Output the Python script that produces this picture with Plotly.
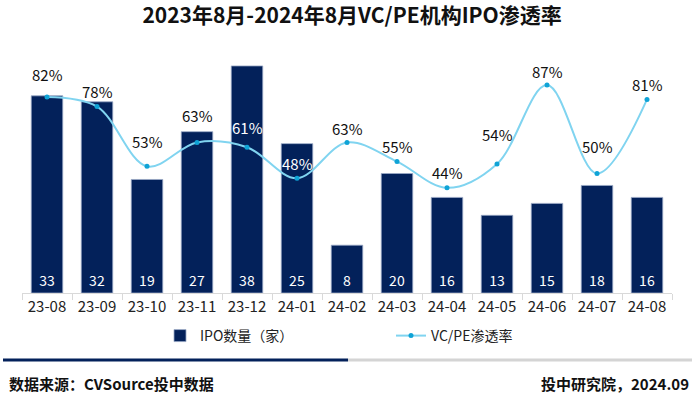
import plotly.graph_objects as go

# ---- data ----
months = ["23-08", "23-09", "23-10", "23-11", "23-12", "24-01", "24-02",
          "24-03", "24-04", "24-05", "24-06", "24-07", "24-08"]
ipo_counts = [33, 32, 19, 27, 38, 25, 8, 20, 16, 13, 15, 18, 16]
vcpe_rate = [0.82, 0.78, 0.53, 0.63, 0.61, 0.48, 0.63, 0.55, 0.44, 0.54, 0.87, 0.50, 0.81]

# ---- styling ----
FONT = "Noto Sans CJK SC"
NAVY = "#03215a"
LINE_C = "#80d4f0"
MARK_C = "#0fa3d6"
label_shift = [23, 15, 25, 27, 20, 15, 14, 15, 15, 29, 14, 27, 15]
label_color = ["#111", "#111", "#111", "#111", "white", "white", "#111",
               "#111", "#111", "#111", "#111", "#111", "#111"]

W, H = 700, 398
L, R, T, B = 22, 28, 54, 105
PW, PH = W - L - R, H - T - B


def px_x(px):
    return (px - L) / PW


def px_y(py):
    return (H - B - py) / PH


fig = go.Figure()
fig.add_trace(go.Bar(
    x=months, y=ipo_counts, name="IPO数量（家）",
    marker=dict(color=NAVY, line=dict(color="#9aa9c6", width=0.8)),
    width=0.63,
    text=[str(v) for v in ipo_counts], textposition="inside",
    insidetextanchor="start",
    textfont=dict(color="white", size=14, family=FONT),
    hoverinfo="skip",
))
fig.add_trace(go.Scatter(
    x=months, y=vcpe_rate, name="VC/PE渗透率", yaxis="y2",
    mode="lines+markers",
    line=dict(color=LINE_C, width=2, shape="spline", smoothing=1.0),
    marker=dict(color=MARK_C, size=5),
    hoverinfo="skip",
))

annotations = []
for m, v, s, c in zip(months, vcpe_rate, label_shift, label_color):
    annotations.append(dict(
        x=m, y=v, xref="x", yref="y2", text=f"{round(v*100)}%",
        showarrow=False, yshift=s, font=dict(size=15, color=c, family=FONT),
    ))

annotations.append(dict(
    x=px_x(7), y=px_y(383), xref="paper", yref="paper", xanchor="left",
    yanchor="middle", showarrow=False, text="<b>数据来源：CVSource投中数据</b>",
    font=dict(size=15, color="#111", family=FONT),
))
annotations.append(dict(
    x=px_x(691), y=px_y(383), xref="paper", yref="paper", xanchor="right",
    yanchor="middle", showarrow=False, text="<b>投中研究院，2024.09</b>",
    font=dict(size=15, color="#111", family=FONT),
))

shapes = [
    dict(type="line", xref="paper", yref="paper", x0=px_x(3), x1=px_x(348),
         y0=px_y(360), y1=px_y(360), line=dict(color=NAVY, width=3)),
    dict(type="line", xref="paper", yref="paper", x0=px_x(348), x1=px_x(692),
         y0=px_y(360), y1=px_y(360), line=dict(color="#d4d4d4", width=3)),
]

fig.update_layout(
    width=W, height=H,
    margin=dict(l=L, r=R, t=T, b=B, autoexpand=False),
    paper_bgcolor="white", plot_bgcolor="white",
    font=dict(family=FONT, color="#222"),
    title=dict(text="<b>2023年8月-2024年8月VC/PE机构IPO渗透率</b>",
               x=0.503, xref="container", xanchor="center",
               y=1 - 16 / H, yref="container", yanchor="middle",
               font=dict(size=21, color="#111", family=FONT)),
    xaxis=dict(type="category", range=[-0.5, len(months) - 0.5],
               showline=True, linecolor="#d9d9d9", linewidth=1,
               ticks="outside", tickson="boundaries", ticklen=6,
               tickcolor="#d9d9d9", tickfont=dict(size=15, color="#222"),
               showgrid=False, zeroline=False, automargin=False),
    yaxis=dict(range=[0, 40], visible=False, showgrid=False, automargin=False),
    yaxis2=dict(range=[0, 1.0], overlaying="y", visible=False, showgrid=False,
                automargin=False),
    bargap=0.37,
    showlegend=True,
    legend=dict(orientation="h", x=px_x(160), xanchor="left",
                y=px_y(336), yanchor="middle", entrywidth=186,
                font=dict(size=14, color="#222", family=FONT),
                bgcolor="rgba(0,0,0,0)"),
    annotations=annotations,
    shapes=shapes,
)

fig.write_html("out.html",
               config={"displayModeBar": False},
               post_script="document.body.style.margin='0';"
                           "document.body.style.overflow='hidden';")
